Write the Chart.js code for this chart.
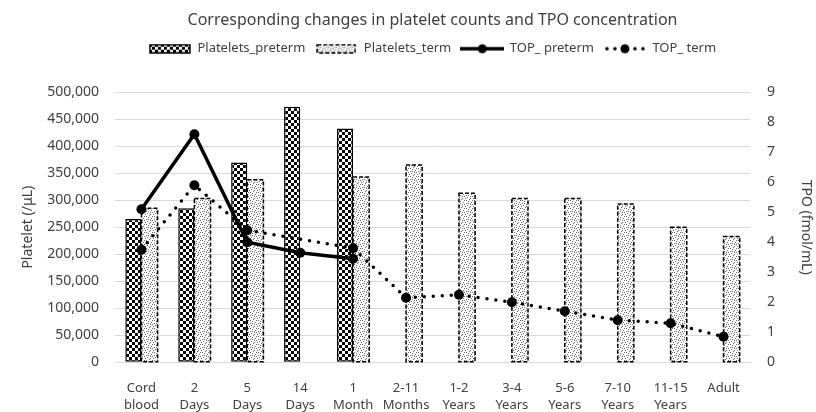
<!DOCTYPE html>
<html>
<head>
<meta charset="utf-8">
<script src="https://cdn.jsdelivr.net/npm/chart.js@4.4.0/dist/chart.umd.min.js"></script>
<style>
  html, body { margin: 0; padding: 0; background: #fff; }
  #wrap { width: 816px; height: 412px; }
</style>
</head>
<body>
<div id="wrap"><canvas id="myChart"></canvas></div>
<script>
const categories = [['Cord', 'blood'], ['2', 'Days'], ['5', 'Days'], ['14', 'Days'], ['1', 'Month'], ['2-11', 'Months'],
  ['1-2', 'Years'], ['3-4', 'Years'], ['5-6', 'Years'], ['7-10', 'Years'], ['11-15', 'Years'], 'Adult'];

const plateletsPreterm = [265000, 285000, 370000, 473000, 433000, null, null, null, null, null, null, null];
const plateletsTerm = [285000, 303000, 338000, null, 343000, 365000, 313000, 303000, 303000, 293000, 250000, 233000];
const tpoPreterm = [5.1, 7.6, 4.0, 3.65, 3.45, null, null, null, null, null, null, null];
const tpoTerm = [3.75, 5.9, 4.4, null, 3.8, 2.15, 2.25, 2.0, 1.7, 1.4, 1.3, 0.85];

const ctx = document.getElementById('myChart').getContext('2d');

// fill patterns
function makeTile(w, h, draw) {
  const c = document.createElement('canvas');
  c.width = w; c.height = h;
  const g = c.getContext('2d');
  g.fillStyle = '#fff';
  g.fillRect(0, 0, w, h);
  draw(g);
  return c;
}
const checkerTile = makeTile(6, 6, g => {
  g.fillStyle = '#000';
  g.fillRect(0, 0, 3, 3);
  g.fillRect(3, 3, 3, 3);
});
// scattered stipple
const stipple = [[0, 0], [4, 1], [2, 3], [6, 4], [1, 6], [5, 7], [7, 2], [3, 5], [2, 0], [6, 6], [0, 4], [4, 3]];
const dotTile = makeTile(8, 8, g => {
  g.fillStyle = '#666';
  stipple.forEach(([x, y]) => g.fillRect(x, y, 1, 1));
});
const checker = ctx.createPattern(checkerTile, 'repeat');
const dots = ctx.createPattern(dotTile, 'repeat');

// legend icons
function icon(w, h, draw) {
  const c = document.createElement('canvas');
  c.width = w; c.height = h;
  draw(c.getContext('2d'));
  return c;
}
const legendIcons = [
  icon(42, 10, g => {
    g.fillStyle = g.createPattern(checkerTile, 'repeat');
    g.fillRect(1, 1, 40, 8);
    g.strokeStyle = '#000'; g.lineWidth = 1.5;
    g.strokeRect(1, 1, 40, 8);
  }),
  icon(40, 10, g => {
    g.fillStyle = g.createPattern(dotTile, 'repeat');
    g.fillRect(1, 1, 38, 8);
    g.strokeStyle = '#000'; g.lineWidth = 1.5;
    g.setLineDash([4, 2]);
    g.strokeRect(1, 1, 38, 8);
  }),
  icon(44, 12, g => {
    g.strokeStyle = '#000'; g.lineWidth = 3.5;
    g.beginPath(); g.moveTo(0, 6); g.lineTo(44, 6); g.stroke();
    g.fillStyle = '#000';
    g.beginPath(); g.arc(22, 6, 4.5, 0, Math.PI * 2); g.fill();
  }),
  icon(44, 12, g => {
    g.fillStyle = '#000';
    [4, 12, 32, 40].forEach(x => { g.beginPath(); g.arc(x, 6, 1.8, 0, Math.PI * 2); g.fill(); });
    g.beginPath(); g.arc(22, 6, 4.5, 0, Math.PI * 2); g.fill();
  })
];

// dashed outline for the term bars
const dashedOutline = {
  id: 'dashedOutline',
  afterDatasetDraw(chart, args) {
    if (args.index !== 1) return;
    const c = chart.ctx;
    c.save();
    c.setLineDash([4, 2]);
    c.lineWidth = 1.5;
    c.strokeStyle = '#000';
    args.meta.data.forEach((bar, i) => {
      if (plateletsTerm[i] == null) return;
      const { x, y, base, width } = bar.getProps(['x', 'y', 'base', 'width'], true);
      c.strokeRect(x - width / 2, y, width, base - y);
    });
    c.restore();
  }
};

const font = '"Noto Sans", "Open Sans", sans-serif';
const textColor = '#404040';

new Chart(ctx, {
  type: 'bar',
  data: {
    labels: categories,
    datasets: [{
      type: 'bar',
      label: 'Platelets_preterm',
      data: plateletsPreterm,
      yAxisID: 'y',
      backgroundColor: checker,
      borderColor: '#000',
      borderWidth: 1.5,
      borderSkipped: false,
      categoryPercentage: 0.61,
      barPercentage: 1,
      order: 2
    }, {
      type: 'bar',
      label: 'Platelets_term',
      data: plateletsTerm,
      yAxisID: 'y',
      backgroundColor: dots,
      borderWidth: 0,
      categoryPercentage: 0.61,
      barPercentage: 1,
      order: 2
    }, {
      type: 'line',
      label: 'TOP_ preterm',
      data: tpoPreterm,
      yAxisID: 'y1',
      borderColor: '#000',
      backgroundColor: '#000',
      borderWidth: 3.5,
      pointRadius: 5,
      pointBorderWidth: 0,
      tension: 0,
      order: 1
    }, {
      type: 'line',
      label: 'TOP_ term',
      data: tpoTerm,
      yAxisID: 'y1',
      borderColor: '#000',
      backgroundColor: '#000',
      borderWidth: 3.5,
      borderDash: [0, 9],
      borderCapStyle: 'round',
      pointRadius: 5,
      pointBorderWidth: 0,
      spanGaps: true,
      tension: 0,
      order: 1
    }]
  },
  options: {
    responsive: true,
    maintainAspectRatio: false,
    animation: false,
    layout: { padding: { left: 18, right: 0, top: 0, bottom: -20 } },
    plugins: {
      title: {
        display: true,
        fullSize: false,
        text: 'Corresponding changes in platelet counts and TPO concentration',
        color: textColor,
        font: { family: font, size: 16, weight: 'normal' },
        padding: { top: 11, bottom: 2 }
      },
      subtitle: {
        // spacer between legend and plot
        display: true,
        fullSize: false,
        text: ' ',
        font: { size: 10 },
        padding: { top: 0, bottom: 15 }
      },
      legend: {
        position: 'top',
        fullSize: false,
        weight: 1800,
        labels: {
          usePointStyle: true,
          pointStyleWidth: 42,
          padding: 10,
          color: textColor,
          font: { family: font, size: 13 },
          generateLabels: chart => chart.data.datasets.map((ds, i) => ({
            text: ds.label,
            pointStyle: legendIcons[i],
            datasetIndex: i,
            hidden: false,
            fontColor: textColor,
            lineWidth: 0,
            strokeStyle: 'transparent',
            fillStyle: 'transparent'
          }))
        }
      },
      tooltip: { enabled: false }
    },
    scales: {
      x: {
        grid: { display: false, drawTicks: false },
        border: { color: '#d9d9d9' },
        ticks: { color: textColor, font: { family: font, size: 13, lineHeight: 1.3 }, maxRotation: 0, autoSkip: false, padding: 18 }
      },
      y: {
        position: 'left',
        min: 0,
        max: 500000,
        afterFit: scale => { scale.width = 97; },
        grid: { color: '#d9d9d9', drawTicks: false },
        border: { display: false },
        ticks: { stepSize: 50000, color: textColor, font: { family: font, size: 14 }, padding: 16 },
        title: { display: true, text: 'Platelet (/μL)', color: textColor, font: { family: font, size: 14 }, padding: { top: 2, bottom: 0 } }
      },
      y1: {
        position: 'right',
        min: 0,
        max: 9,
        afterFit: scale => { scale.width = 66; },
        grid: { drawOnChartArea: false, drawTicks: false },
        border: { display: false },
        ticks: { stepSize: 1, color: textColor, font: { family: font, size: 14 }, padding: 17 },
        title: { display: true, text: 'TPO (fmol/mL)', color: textColor, font: { family: font, size: 14 }, padding: { top: 2, bottom: 0 } }
      }
    }
  },
  plugins: [dashedOutline]
});
</script>
</body>
</html>
